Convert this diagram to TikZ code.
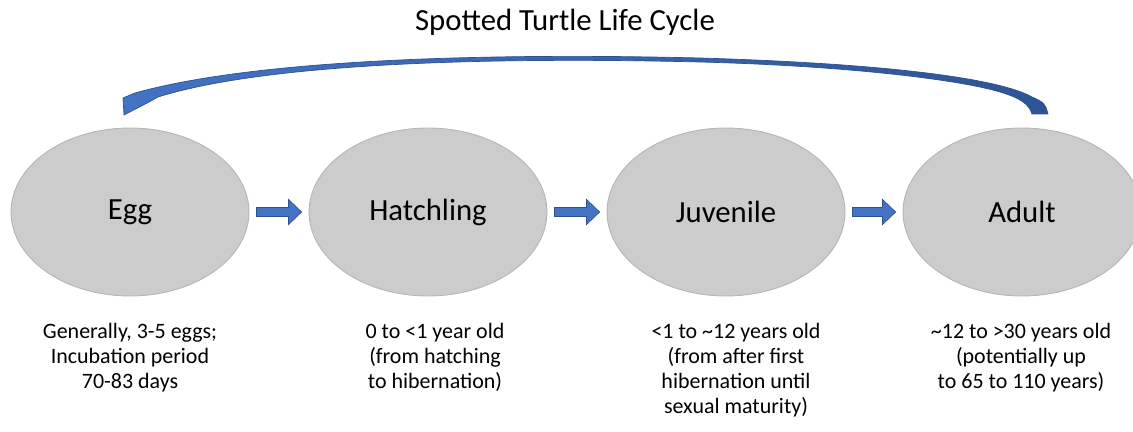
\documentclass[tikz,border=0pt]{standalone}
\usepackage{fontspec}
\setmainfont{Carlito}
\usepackage{tikz}
\usetikzlibrary{calc,shapes.geometric}

\definecolor{stageGray}{HTML}{CCCCCC}
\definecolor{stageEdge}{HTML}{B4B4B4}
\definecolor{arrBlue}{HTML}{4472C4}
\definecolor{arrEdge}{HTML}{2F528F}
\definecolor{loopDark}{HTML}{2E5496}

\tikzset{
  stage/.style={ellipse, fill=stageGray, draw=stageEdge, line width=0.5pt,
    minimum width=4.76cm, minimum height=3.36cm, inner sep=0pt,
    font=\fontsize{17.5}{21}\selectfont},
  info/.style={align=center, anchor=north, inner sep=0pt,
    font=\fontsize{12.5}{14.2}\selectfont},
  blockarrow/.style={fill=arrBlue, draw=arrEdge, line width=0.4pt}
}

\begin{document}
\begin{tikzpicture}[x=0.02cm, y=-0.02cm]
    \useasboundingbox (0,0) rectangle (1133,432);

    \node[font=\fontsize{17.5}{21}\selectfont] (title) at (565,22) {Spotted Turtle Life Cycle};

    \node[stage] (egg)   at (130,212)  {Egg};
    \node[stage] (hatch) at (428,212)  {Hatchling};
    \node[stage] (juv)   at (726,212)  {Juvenile};
    \node[stage] (adult) at (1022,212) {Adult};

    \foreach \a/\b in {egg/hatch, hatch/juv, juv/adult}
        \filldraw[blockarrow] ($(\a.east)+(7,-4.5)$) -- ($(\b.west)+(-20,-4.5)$)
            -- ($(\b.west)+(-20,-12.5)$) -- ($(\b.west)+(-7,0)$)
            -- ($(\b.west)+(-20,12.5)$) -- ($(\b.west)+(-20,4.5)$)
            -- ($(\a.east)+(7,4.5)$) -- cycle;

    % back from adult to egg
    \shadedraw[left color=arrBlue, right color=loopDark, draw=arrEdge, line width=0.4pt]
        (1048,114) .. controls (1045,103) .. (1030,96)
        .. controls (1000,80) and (900,64) .. (700,58)
        .. controls (500,53) and (260,58) .. (135,93)
        -- (123,98) -- (124,115) -- (149,102) -- (158,97)
        .. controls (270,62) and (500,57) .. (700,62)
        .. controls (850,66) and (960,80) .. (1000,92)
        .. controls (1020,98) and (1029,104) .. (1032,114) -- cycle;

    \node[info] (egginfo)   at (130,323)  {Generally, 3-5 eggs;\\Incubation period\\70-83 days};
    \node[info] (hatchinfo) at (435,323)  {0 to <1 year old\\(from hatching\\to hibernation)};
    \node[info] (juvinfo)   at (736,323)  {<1 to \textasciitilde12 years old\\(from after first\\hibernation until\\sexual maturity)};
    \node[info] (adultinfo) at (1021,323) {\textasciitilde12 to >30 years old\\(potentially up\\to 65 to 110 years)};
\end{tikzpicture}
\end{document}
